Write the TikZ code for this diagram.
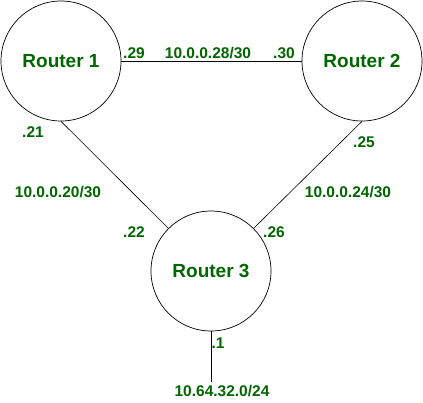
\documentclass[tikz,border=0pt]{standalone}
\usepackage{fontspec}
\setmainfont{Liberation Sans}
\usetikzlibrary{positioning}
\definecolor{netgreen}{RGB}{0,102,0}

\begin{document}
\begin{tikzpicture}[x=1pt, y=-1pt, node distance=301pt, auto]
        \tikzstyle{router}=[draw, circle, minimum size=120pt, inner sep=0pt, line width=0.7pt, text=netgreen, font=\fontsize{19}{21}\selectfont\bfseries]
        \tikzstyle{addr}=[text=netgreen, inner sep=0pt, font=\fontsize{15.5}{17}\selectfont\bfseries]
        \tikzstyle{link}=[line width=0.6pt]

        \useasboundingbox (0,0) rectangle (423,402);

        \node[router] (r1) at (61,61) {Router 1};
        \node[router, right of=r1] (r2) {Router 2};
        \node[router] (r3) at (211,271) {Router 3};
        \coordinate (lan) at (211,382);

        % subnets
        \node[addr] (net28) at (208,53) {10.0.0.28/30};
        \node[addr] (net20) at (58,192) {10.0.0.20/30};
        \node[addr] (net24) at (348,192) {10.0.0.24/30};
        \node[addr] (net64) at (222,391) {10.64.32.0/24};

        % interface addresses
        \node[addr] (if29) at (134,53) {.29};
        \node[addr] (if30) at (284,53) {.30};
        \node[addr] (if21) at (33,132) {.21};
        \node[addr] (if25) at (364,142) {.25};
        \node[addr] (if22) at (134,232) {.22};
        \node[addr] (if26) at (274,232) {.26};
        \node[addr] (if1) at (218,343) {.1};

        \draw[link] (r1) -- (r2);
        \draw[link] (r1.south) -- (r3.135);
        \draw[link] (r2.south) -- (r3.45);
        \draw[line width=0.9pt] (r3.south) -- (lan);
    \end{tikzpicture}
\end{document}
